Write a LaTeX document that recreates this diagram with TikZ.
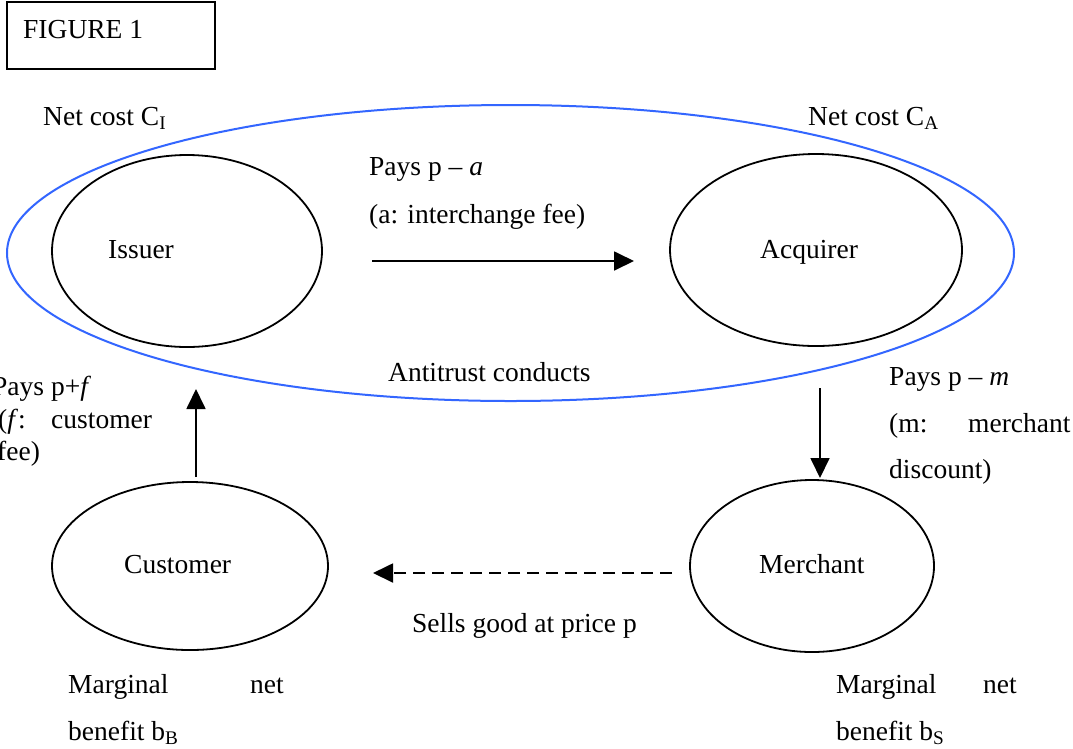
\documentclass[tikz,border=0pt]{standalone}
\usepackage{fontspec}
\setmainfont{Liberation Serif}
\usetikzlibrary{arrows.meta,shapes.geometric}
\definecolor{ovalblue}{RGB}{51,102,255}
\tikzset{
  party/.style={draw, ellipse, line width=1.8pt, inner sep=0pt},
  lbl/.style={anchor=base west, inner sep=0pt, font=\fontsize{27.5}{33}\selectfont},
  flow/.style={line width=1.8pt, -{Triangle[length=20pt,width=19pt]}},
}
\begin{document}
\begin{tikzpicture}[x=1pt,y=-1pt]
\useasboundingbox (0,0) rectangle (1073,748);
\fill[white] (0,0) rectangle (1073,748);
% figure label box
\draw[line width=1.5pt] (7,2) rectangle (215,69);
\node[lbl] (fig) at (23,38) {FIGURE 1};
% blue oval
\node[draw=ovalblue, ellipse, line width=2pt, minimum width=1007pt, minimum height=296pt, inner sep=0pt] (oval) at (510.5,253) {};
% parties
\node[party, minimum width=270pt, minimum height=192pt] (issuer) at (187,251) {};
\node[party, minimum width=292pt, minimum height=192pt] (acquirer) at (816,250) {};
\node[party, minimum width=276pt, minimum height=168pt] (customer) at (190,566) {};
\node[party, minimum width=244pt, minimum height=172pt] (merchant) at (812,566) {};
\node[lbl] (tissuer) at (108,258) {Issuer};
\node[lbl] (tacquirer) at (760,258) {Acquirer};
\node[lbl] (tcustomer) at (124,573) {Customer};
\node[lbl] (tmerchant) at (759,573) {Merchant};
% texts
\node[lbl] (ncI) at (43,125) {Net cost C\textsubscript{I}};
\node[lbl] (ncA) at (808,125) {Net cost C\textsubscript{A}};
\node[lbl] (pa1) at (369,175) {Pays p -- \textit{a}};
\node[lbl] (pa2) at (369,223) {(a: interchange fee)};
\node[lbl] (anti) at (388,381) {Antitrust conducts};
\node[lbl] (pf1) at (-8,395) {Pays p+\textit{f}};
\node[lbl] (pf2) at (-2,428) {(\textit{f}:};
\node[lbl] (pf3) at (51,428) {customer};
\node[lbl] (pf4) at (-3,460) {fee)};
\node[lbl] (pm1) at (889,385) {Pays p -- \textit{m}};
\node[lbl] (pm2) at (889,432) {(m:};
\node[lbl] (pm3) at (968,432) {merchant};
\node[lbl] (pm4) at (889,478) {discount)};
\node[lbl] (sells) at (412,632) {Sells good at price p};
\node[lbl] (mb1) at (68,693) {Marginal};
\node[lbl] (mb2) at (250,693) {net};
\node[lbl] (mb3) at (68,740) {benefit b\textsubscript{B}};
\node[lbl] (ms1) at (836,693) {Marginal};
\node[lbl] (ms2) at (983,693) {net};
\node[lbl] (ms3) at (836,740) {benefit b\textsubscript{S}};
% connector end points
\coordinate (ia0) at (372,261);
\coordinate (ia1) at (634,261);
\coordinate (am0) at (820,388);
\coordinate (am1) at (820,478);
\coordinate (mc0) at (672,573);
\coordinate (mc1) at (373,573);
\coordinate (ci0) at (196,477);
\coordinate (ci1) at (196,389);
% connectors
\draw[flow] (ia0) -- (ia1);
\draw[flow] (am0) -- (am1);
\draw[flow] (ci0) -- (ci1);
\draw[flow, dash pattern=on 12pt off 7pt] (mc0) -- (mc1);
\end{tikzpicture}
\end{document}
